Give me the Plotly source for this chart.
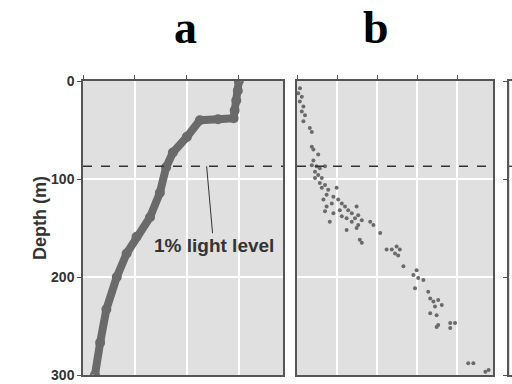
import plotly.graph_objects as go
from plotly.subplots import make_subplots

# Panel a: profile (x in arbitrary units, depth in m)
a_x = [3.0, 2.98, 2.95, 2.92, 2.9, 2.6, 2.25, 2.0, 1.73, 1.6, 1.48, 1.29, 1.03, 0.84, 0.65, 0.45, 0.33, 0.23]
a_depth = [0, 10, 20, 30, 38, 39, 40, 57, 73, 88, 114, 139, 159, 176, 200, 233, 267, 300]

# Panel b: scatter
b_x = [0.075, 0.03, 0.12, 0.07, 0.16, 0.12, 0.2, 0.16, 0.32, 0.37, 0.37, 0.41, 0.53, 0.41, 0.37, 0.49,
       0.57, 0.7, 0.45, 0.53, 0.45, 0.62, 0.57, 0.7, 0.62, 0.78, 0.99, 0.74, 0.91, 0.66, 1.03, 0.87,
       1.12, 0.74, 1.2, 1.49, 1.07, 1.28, 0.7, 0.91, 1.37, 1.53, 1.12, 1.24, 1.45, 1.62, 0.82, 1.37,
       1.83, 1.53, 1.91, 1.49, 1.24, 2.08, 1.57, 1.62, 2.24, 2.37, 2.49, 2.57, 2.45, 2.53, 2.66, 2.99,
       2.91, 3.03, 3.16, 2.95, 3.28, 3.33, 3.41, 3.53, 3.62, 3.45, 3.33, 3.49, 3.53, 3.49, 3.83, 3.95,
       3.83, 4.28, 4.41, 4.71, 4.79]
b_depth = [7.5, 12.6, 16, 21, 26, 31, 35, 41, 48, 52, 67, 70, 75, 81, 86, 87,
           89, 87, 92.5, 96, 99, 99, 104, 106, 109, 111, 109, 116, 118, 121, 121, 125,
           125, 128, 128, 128, 132, 132, 133, 135, 135, 137, 138, 140, 140, 142, 143.5, 143.5,
           143.5, 147, 147, 150, 152, 155, 162, 165, 172, 172, 169, 172, 176, 178, 189, 193,
           198, 201, 203, 211.5, 215, 222, 225, 223.5, 228.6, 230, 237, 239, 249, 251, 247, 247,
           252, 288, 288, 296.6, 295]

light_level_depth = 87
depth_ticks = [0, 100, 200, 300]
panel_titles = ["a", "b"]

W, H = 512, 384
def px(x): return x / W
def py(y): return 1 - y / H

fig = make_subplots(rows=1, cols=3, shared_yaxes=False, horizontal_spacing=0)

mark = "#6a6a6a"
fig.add_trace(go.Scatter(x=a_x, y=a_depth, mode="lines+markers",
                         line=dict(color=mark, width=8),
                         marker=dict(color=mark, size=8, symbol="circle-open", line=dict(width=2)),
                         showlegend=False, hoverinfo="skip"), row=1, col=1)
fig.add_trace(go.Scatter(x=b_x, y=b_depth, mode="markers",
                         marker=dict(color=mark, size=4),
                         showlegend=False, hoverinfo="skip"), row=1, col=2)
fig.add_trace(go.Scatter(x=[0], y=[0], mode="markers", marker=dict(opacity=0),
                         showlegend=False, hoverinfo="skip"), row=1, col=3)

y0, y1 = py(375), py(81)
axcommon = dict(showline=True, linecolor="#555555", linewidth=1.5, mirror=True, automargin=False,
                showgrid=True, gridcolor="white", gridwidth=1.5, zeroline=False)
bold = dict(family="Liberation Sans", color="#333333", weight="bold")

fig.update_xaxes(domain=[px(83), px(283)], range=[0, 3.85], dtick=1, side="top",
                 ticks="outside", ticklen=4, tickcolor="#555555", showticklabels=False,
                 **axcommon, row=1, col=1)
fig.update_xaxes(domain=[px(297), px(493)], range=[0, 4.9], dtick=1, side="top",
                 ticks="outside", ticklen=4, tickcolor="#555555", showticklabels=False,
                 **axcommon, row=1, col=2)
fig.update_xaxes(domain=[px(509), 1.0], range=[0, 1], side="top", showticklabels=False,
                 **axcommon, row=1, col=3)

fig.update_yaxes(domain=[y0, y1], range=[300, 0], tickvals=depth_ticks,
                 ticks="outside", ticklen=4, tickcolor="#555555",
                 tickfont=dict(size=14, **bold), **axcommon, row=1, col=1)
fig.update_yaxes(domain=[y0, y1], range=[300, 0], tickvals=depth_ticks, showticklabels=False,
                 **axcommon, row=1, col=2)
fig.update_yaxes(domain=[y0, y1], range=[300, 0], tickvals=depth_ticks, showticklabels=False,
                 ticks="outside", ticklen=4, tickcolor="#555555", **axcommon, row=1, col=3)

for xr, yr in [("x", "y"), ("x2", "y2"), ("x3", "y3")]:
    fig.add_shape(type="line", xref=xr + " domain", yref=yr, x0=0, x1=1,
                  y0=light_level_depth, y1=light_level_depth,
                  line=dict(color="#333333", width=1.3, dash="dash"))

fig.add_annotation(x=2.38, y=light_level_depth, xref="x", yref="y",
                   text="1% light level", showarrow=True, arrowhead=0, arrowwidth=1,
                   arrowcolor="#333333", ax=7, ay=79,
                   font=dict(size=19, **bold))

fig.add_annotation(x=px(28), y=py(218), xref="paper", yref="paper", text="Depth (m)",
                   textangle=-90, showarrow=False, font=dict(size=18, **bold))

for t, cx in zip(panel_titles, [185, 391]):
    fig.add_annotation(x=px(cx), y=py(28), xref="paper", yref="paper", yanchor="middle",
                       text=t, showarrow=False,
                       font=dict(family="Liberation Serif", size=46, color="black", weight="bold"))

fig.update_layout(width=W, height=H, margin=dict(l=0, r=0, t=0, b=0),
                  paper_bgcolor="white", plot_bgcolor="#e0e0e0")

fig.write_html("out.html", config={"displayModeBar": False},
               post_script="document.body.style.margin='0';")
